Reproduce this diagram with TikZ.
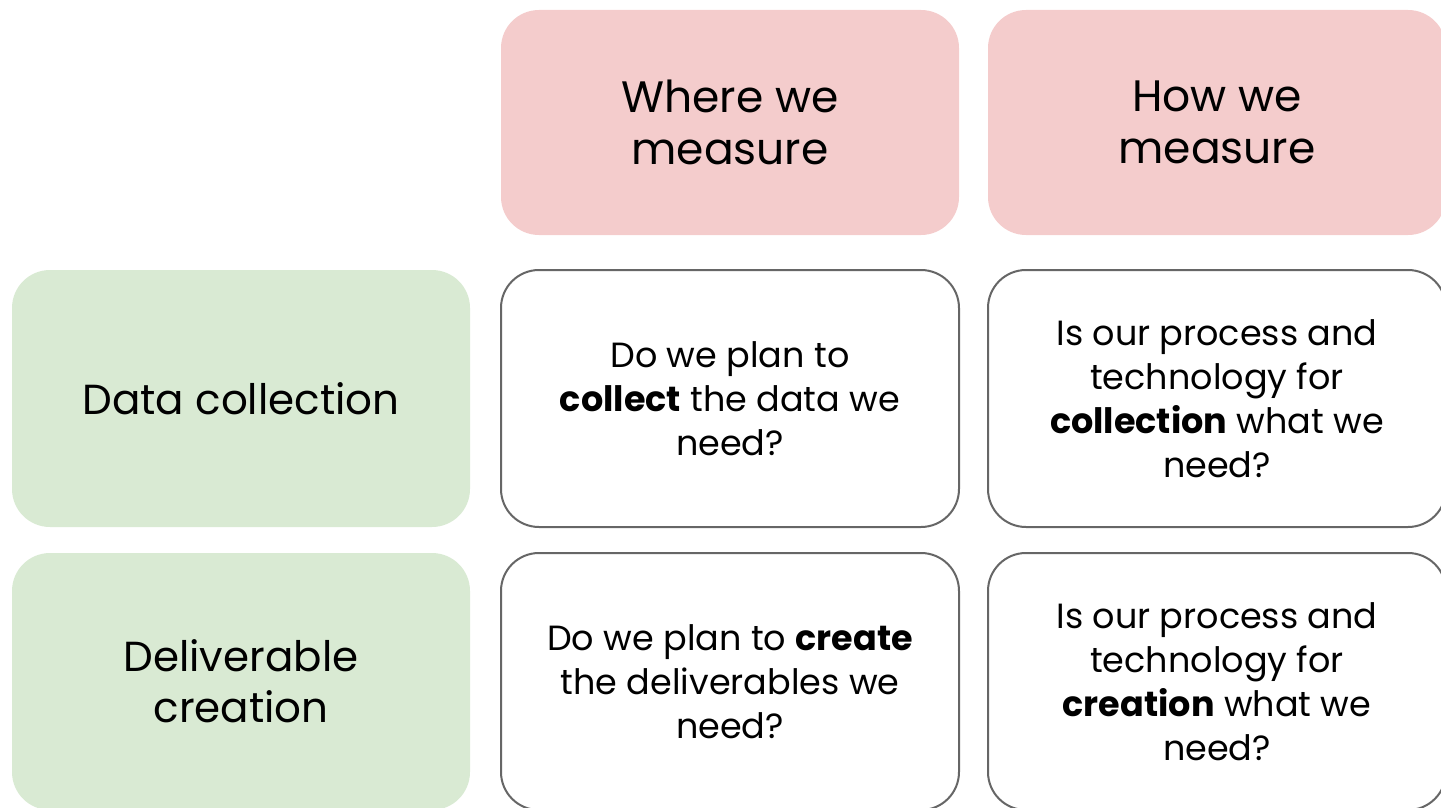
\documentclass[tikz,border=0pt]{standalone}
\usepackage{fontspec}
\setmainfont{Poppins}
\usetikzlibrary{positioning}
\definecolor{headpink}{HTML}{F4CCCC}
\definecolor{rowgreen}{HTML}{D9EAD3}
\definecolor{cellgray}{HTML}{666666}

\begin{document}
\begin{tikzpicture}[
    x=1pt, y=-1pt,
    card/.style={rounded corners=38pt, minimum width=458pt, minimum height=257pt, align=center, inner sep=0pt, outer sep=0pt},
    head/.style={card, fill=headpink, minimum height=225pt, font=\fontsize{44}{52}\selectfont},
    rowlabel/.style={card, fill=rowgreen, font=\fontsize{42}{51}\selectfont},
    cell/.style={card, draw=cellgray, line width=2pt, fill=white, font=\fontsize{35}{44}\selectfont}
  ]
    \useasboundingbox (0,0) rectangle (1441,808);

    % Column headers
    \node[head] (where) at (730,122.5) {Where we\\measure};
    \node[head, right=29pt of where] (how) {How we\\measure};

    % Row labels
    \node[rowlabel] (collect) at (241,398.5) {Data collection};
    \node[rowlabel, below=26pt of collect] (create) {Deliverable\\creation};

    % Questions
    \node[cell, right=31pt of collect] (collectwhere) {Do we plan to\\\textbf{collect} the data we\\need?};
    \node[cell, right=29pt of collectwhere] (collecthow) {Is our process and\\technology for\\\textbf{collection} what we\\need?};
    \node[cell, right=31pt of create] (createwhere) {Do we plan to \textbf{create}\\the deliverables we\\need?};
    \node[cell, right=29pt of createwhere] (createhow) {Is our process and\\technology for\\\textbf{creation} what we\\need?};
  \end{tikzpicture}
\end{document}
